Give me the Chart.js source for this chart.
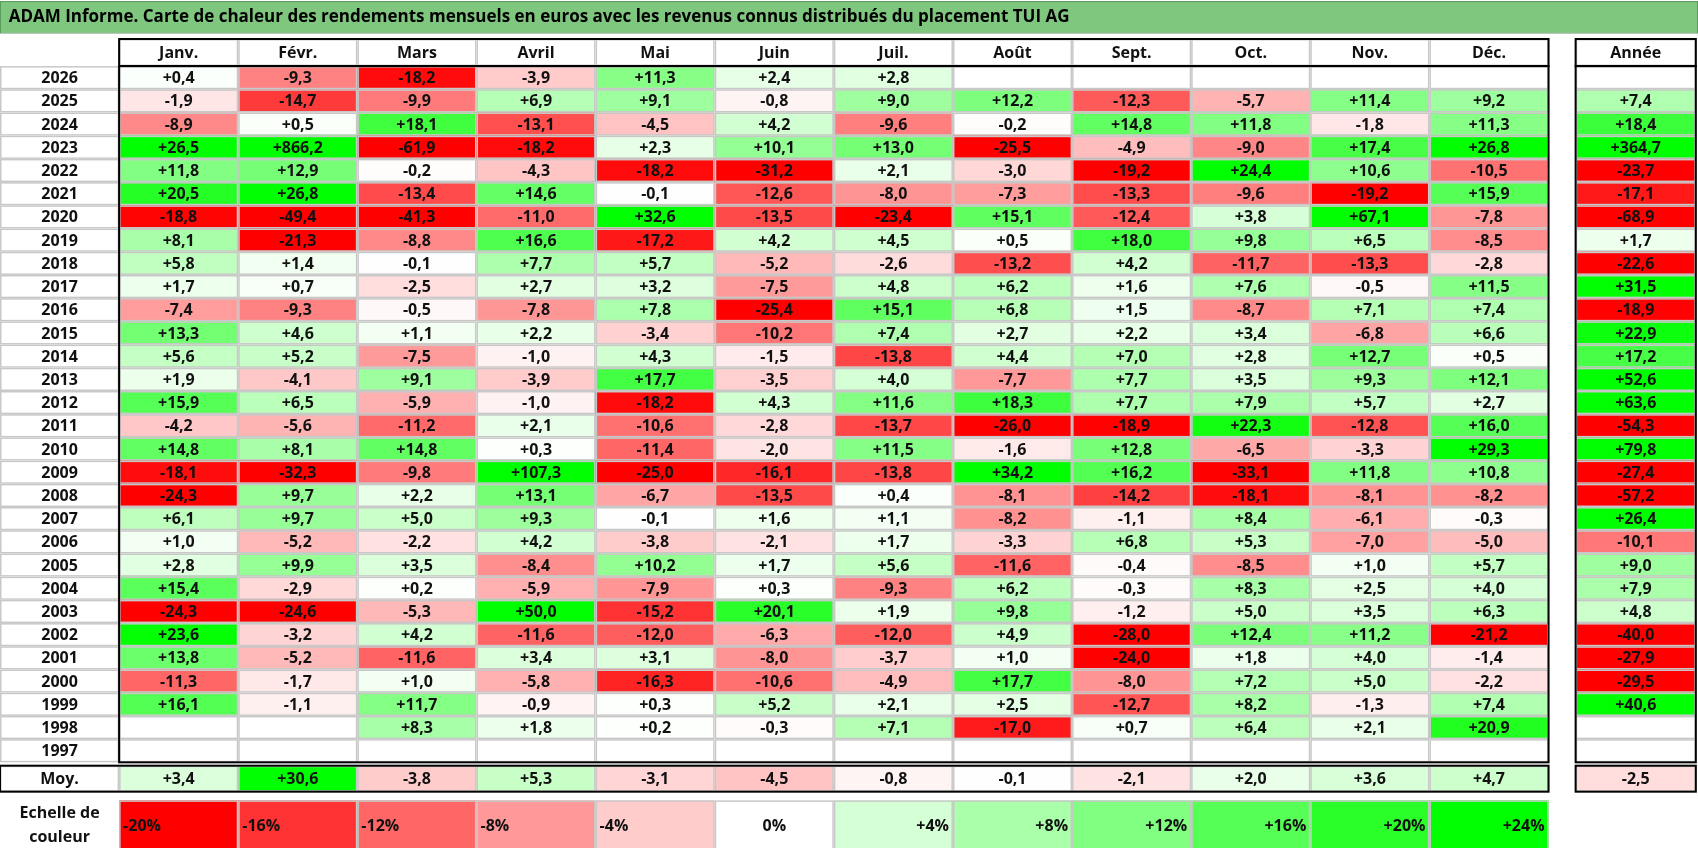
<!DOCTYPE html>
<html>
<head>
<meta charset="utf-8">
<script src="https://cdn.jsdelivr.net/npm/chart.js@4"></script>
<style>
  html, body { margin: 0; padding: 0; background: #fff; }
  #wrap { width: 1698px; height: 848px; }
</style>
</head>
<body>
<div id="wrap"><canvas id="heat"></canvas></div>
<script>
const title = 'ADAM Informe. Carte de chaleur des rendements mensuels en euros avec les revenus connus distribués du placement TUI AG';
const months = ['Janv.', 'Févr.', 'Mars', 'Avril', 'Mai', 'Juin', 'Juil.', 'Août', 'Sept.', 'Oct.', 'Nov.', 'Déc.'];
const years = [2026, 2025, 2024, 2023, 2022, 2021, 2020, 2019, 2018, 2017, 2016, 2015, 2014, 2013, 2012,
  2011, 2010, 2009, 2008, 2007, 2006, 2005, 2004, 2003, 2002, 2001, 2000, 1999, 1998, 1997];
const _ = null;
const monthly = [
  [0.4, -9.3, -18.2, -3.9, 11.3, 2.4, 2.8, _, _, _, _, _],
  [-1.9, -14.7, -9.9, 6.9, 9.1, -0.8, 9.0, 12.2, -12.3, -5.7, 11.4, 9.2],
  [-8.9, 0.5, 18.1, -13.1, -4.5, 4.2, -9.6, -0.2, 14.8, 11.8, -1.8, 11.3],
  [26.5, 866.2, -61.9, -18.2, 2.3, 10.1, 13.0, -25.5, -4.9, -9.0, 17.4, 26.8],
  [11.8, 12.9, -0.2, -4.3, -18.2, -31.2, 2.1, -3.0, -19.2, 24.4, 10.6, -10.5],
  [20.5, 26.8, -13.4, 14.6, -0.1, -12.6, -8.0, -7.3, -13.3, -9.6, -19.2, 15.9],
  [-18.8, -49.4, -41.3, -11.0, 32.6, -13.5, -23.4, 15.1, -12.4, 3.8, 67.1, -7.8],
  [8.1, -21.3, -8.8, 16.6, -17.2, 4.2, 4.5, 0.5, 18.0, 9.8, 6.5, -8.5],
  [5.8, 1.4, -0.1, 7.7, 5.7, -5.2, -2.6, -13.2, 4.2, -11.7, -13.3, -2.8],
  [1.7, 0.7, -2.5, 2.7, 3.2, -7.5, 4.8, 6.2, 1.6, 7.6, -0.5, 11.5],
  [-7.4, -9.3, -0.5, -7.8, 7.8, -25.4, 15.1, 6.8, 1.5, -8.7, 7.1, 7.4],
  [13.3, 4.6, 1.1, 2.2, -3.4, -10.2, 7.4, 2.7, 2.2, 3.4, -6.8, 6.6],
  [5.6, 5.2, -7.5, -1.0, 4.3, -1.5, -13.8, 4.4, 7.0, 2.8, 12.7, 0.5],
  [1.9, -4.1, 9.1, -3.9, 17.7, -3.5, 4.0, -7.7, 7.7, 3.5, 9.3, 12.1],
  [15.9, 6.5, -5.9, -1.0, -18.2, 4.3, 11.6, 18.3, 7.7, 7.9, 5.7, 2.7],
  [-4.2, -5.6, -11.2, 2.1, -10.6, -2.8, -13.7, -26.0, -18.9, 22.3, -12.8, 16.0],
  [14.8, 8.1, 14.8, 0.3, -11.4, -2.0, 11.5, -1.6, 12.8, -6.5, -3.3, 29.3],
  [-18.1, -32.3, -9.8, 107.3, -25.0, -16.1, -13.8, 34.2, 16.2, -33.1, 11.8, 10.8],
  [-24.3, 9.7, 2.2, 13.1, -6.7, -13.5, 0.4, -8.1, -14.2, -18.1, -8.1, -8.2],
  [6.1, 9.7, 5.0, 9.3, -0.1, 1.6, 1.1, -8.2, -1.1, 8.4, -6.1, -0.3],
  [1.0, -5.2, -2.2, 4.2, -3.8, -2.1, 1.7, -3.3, 6.8, 5.3, -7.0, -5.0],
  [2.8, 9.9, 3.5, -8.4, 10.2, 1.7, 5.6, -11.6, -0.4, -8.5, 1.0, 5.7],
  [15.4, -2.9, 0.2, -5.9, -7.9, 0.3, -9.3, 6.2, -0.3, 8.3, 2.5, 4.0],
  [-24.3, -24.6, -5.3, 50.0, -15.2, 20.1, 1.9, 9.8, -1.2, 5.0, 3.5, 6.3],
  [23.6, -3.2, 4.2, -11.6, -12.0, -6.3, -12.0, 4.9, -28.0, 12.4, 11.2, -21.2],
  [13.8, -5.2, -11.6, 3.4, 3.1, -8.0, -3.7, 1.0, -24.0, 1.8, 4.0, -1.4],
  [-11.3, -1.7, 1.0, -5.8, -16.3, -10.6, -4.9, 17.7, -8.0, 7.2, 5.0, -2.2],
  [16.1, -1.1, 11.7, -0.9, 0.3, 5.2, 2.1, 2.5, -12.7, 8.2, -1.3, 7.4],
  [_, _, 8.3, 1.8, 0.2, -0.3, 7.1, -17.0, 0.7, 6.4, 2.1, 20.9],
  [_, _, _, _, _, _, _, _, _, _, _, _]
];
const yearly = [_, 7.4, 18.4, 364.7, -23.7, -17.1, -68.9, 1.7, -22.6, 31.5, -18.9, 22.9, 17.2, 52.6, 63.6,
  -54.3, 79.8, -27.4, -57.2, 26.4, -10.1, 9.0, 7.9, 4.8, -40.0, -27.9, -29.5, 40.6, _, _];
const average = [3.4, 30.6, -3.8, 5.3, -3.1, -4.5, -0.8, -0.1, -2.1, 2.0, 3.6, 4.7];
const averageYear = -2.5;
const scaleSteps = [-20, -16, -12, -8, -4, 0, 4, 8, 12, 16, 20, 24];

function cellColor(v) {
  if (v === null) return '#ffffff';
  if (v < 0) {
    const t = Math.min(-v / 19, 1);
    const c = Math.round(255 * (1 - t));
    return `rgb(255,${c},${c})`;
  }
  const t = Math.min(v / 24, 1);
  const c = Math.round(255 * (1 - t));
  return `rgb(${c},255,${c})`;
}
function fmt(v) {
  if (v === null) return '';
  return (v > 0 ? '+' : '') + v.toFixed(1).replace('.', ',');
}

// layout in scale units (page width = 1568 units)
const colX = i => 110 + i * 110;
const yearColX = 1455, yearColW = 111;
const headTop = 36, rowTop = 61, rowH = 21.43;
const moyTop = 707, moyH = 24;
const scaleTop = 739, scaleH = 46;

const heatPlugin = {
  id: 'heat',
  afterDraw(chart) {
    const ctx = chart.ctx;
    const sx = chart.scales.x, sy = chart.scales.y;
    const X = v => sx.getPixelForValue(v), Y = v => sy.getPixelForValue(v);
    const font = 'bold 16px "Open Sans", "Liberation Sans", sans-serif';

    function cell(x0, y0, w, h, fill, text, align) {
      const px = X(x0), py = Y(y0), pw = X(x0 + w) - px, ph = Y(y0 + h) - py;
      ctx.fillStyle = fill;
      ctx.fillRect(px, py, pw, ph);
      ctx.strokeStyle = '#c8c8c8';
      ctx.lineWidth = 1.5;
      ctx.strokeRect(px + 0.75, py + 0.75, pw - 1.5, ph - 1.5);
      if (text) {
        ctx.fillStyle = '#111';
        ctx.font = font;
        ctx.textBaseline = 'middle';
        ctx.textAlign = align || 'center';
        const tx = align === 'left' ? px + 4 : align === 'right' ? px + pw - 4 : px + pw / 2;
        ctx.fillText(text, tx, py + ph / 2 + 1);
      }
    }
    function box(x0, y0, w, h) {
      ctx.strokeStyle = '#000';
      ctx.lineWidth = 2;
      ctx.strokeRect(X(x0), Y(y0), X(x0 + w) - X(x0), Y(y0 + h) - Y(y0));
    }

    ctx.save();
    // title
    ctx.fillStyle = '#7fc77f';
    ctx.fillRect(X(0), Y(1), X(1568) - X(0), Y(30) - Y(1));
    ctx.strokeStyle = '#5a9a5a';
    ctx.strokeRect(X(0) + 0.5, Y(1) + 0.5, X(1568) - X(0) - 1, Y(30) - Y(1));
    ctx.fillStyle = '#000';
    ctx.font = 'bold 17px "Open Sans", "Liberation Sans", sans-serif';
    ctx.textAlign = 'left';
    ctx.textBaseline = 'middle';
    ctx.fillText(title, X(8), Y(16));

    // header
    months.forEach((m, i) => cell(colX(i), headTop, 110, rowTop - headTop, '#fff', m));
    cell(yearColX, headTop, yearColW, rowTop - headTop, '#fff', 'Année');

    // rows
    years.forEach((yr, r) => {
      const y0 = rowTop + r * rowH;
      cell(0, y0, 110, rowH, '#fff', String(yr));
      monthly[r].forEach((v, i) => cell(colX(i), y0, 110, rowH, cellColor(v), fmt(v)));
      cell(yearColX, y0, yearColW, rowH, cellColor(yearly[r]), fmt(yearly[r]));
    });

    // average row
    cell(0, moyTop, 110, moyH, '#fff', 'Moy.');
    average.forEach((v, i) => cell(colX(i), moyTop, 110, moyH, cellColor(v), fmt(v)));
    cell(yearColX, moyTop, yearColW, moyH, cellColor(averageYear), fmt(averageYear));

    // colour scale
    ctx.fillStyle = '#111';
    ctx.font = font;
    ctx.textAlign = 'center';
    ctx.fillText('Echelle de', X(55), Y(scaleTop + 12));
    ctx.fillText('couleur', X(55), Y(scaleTop + 34));
    scaleSteps.forEach((s, i) => {
      const txt = (s > 0 ? '+' : '') + s + '%';
      const align = s < 0 ? 'left' : s > 0 ? 'right' : 'center';
      const fill = s === 0 ? '#fff' : s < 0 ? cellColor(s * 0.95) : cellColor(s);
      cell(colX(i), scaleTop, 110, scaleH, fill, txt, align);
    });

    // black frames
    box(110, headTop, 1320, rowTop - headTop);
    box(110, rowTop, 1320, rowH * years.length);
    box(yearColX, headTop, yearColW, rowTop - headTop);
    box(yearColX, rowTop, yearColW, rowH * years.length);
    box(0, moyTop, 1430, moyH);
    box(yearColX, moyTop, yearColW, moyH);
    ctx.restore();
  }
};

new Chart(document.getElementById('heat'), {
  type: 'scatter',
  data: { datasets: [{ data: [], pointRadius: 0 }] },
  options: {
    responsive: true,
    maintainAspectRatio: false,
    animation: false,
    layout: { padding: 0 },
    plugins: { legend: { display: false }, tooltip: { enabled: false } },
    scales: {
      x: { type: 'linear', min: 0, max: 1568, display: false },
      y: { type: 'linear', min: 0, max: 783, reverse: true, display: false }
    }
  },
  plugins: [heatPlugin]
});
</script>
</body>
</html>
